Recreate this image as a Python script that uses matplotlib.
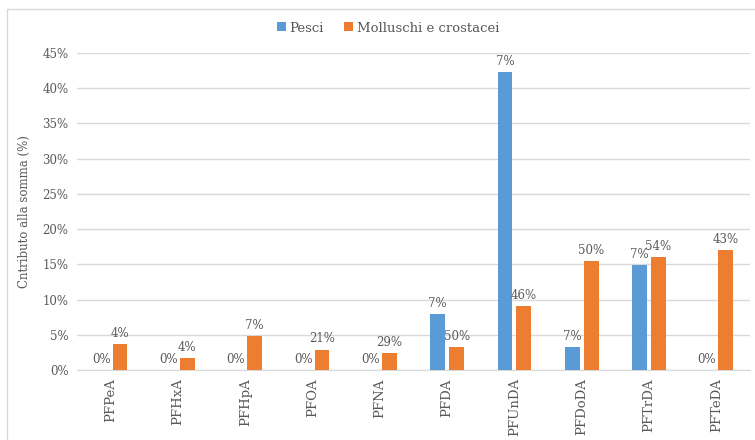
import matplotlib
matplotlib.use("Agg")
import matplotlib.pyplot as plt
import numpy as np
from matplotlib.patches import Rectangle

categories = ["PFPeA", "PFHxA", "PFHpA", "PFOA", "PFNA",
              "PFDA", "PFUnDA", "PFDoDA", "PFTrDA", "PFTeDA"]
pesci = [0.0, 0.0, 0.0, 0.0, 0.0, 7.95, 42.3, 3.2, 14.9, 0.0]
molluschi = [3.7, 1.7, 4.8, 2.9, 2.4, 3.3, 9.05, 15.5, 16.05, 17.05]
# labels shown above the bars (detection frequency)
pesci_labels = ["0%", "0%", "0%", "0%", "0%", "7%", "7%", "7%", "7%", "0%"]
molluschi_labels = ["4%", "4%", "7%", "21%", "29%", "50%", "46%", "50%", "54%", "43%"]
yticks = [0, 5, 10, 15, 20, 25, 30, 35, 40, 45]

BLUE = "#5B9BD5"
ORANGE = "#ED7D31"
GREY = "#595959"

plt.rcParams["font.family"] = ["DejaVu Serif"]

fig = plt.figure(figsize=(7.55, 4.4), dpi=100)
fig.patches.append(Rectangle((7 / 755, -0.1), 1.1, 1 - 9 / 440 + 0.1,
                             transform=fig.transFigure, fill=False,
                             edgecolor="#d9d9d9", linewidth=1))
ax = fig.add_axes([77 / 755, 1 - 370 / 440, 673 / 755, 317 / 440])

x = np.arange(len(categories))
w = 0.22
off = 0.14
b1 = ax.bar(x - off, pesci, w, color=BLUE, label="Pesci", zorder=3)
b2 = ax.bar(x + off, molluschi, w, color=ORANGE, label="Molluschi e crostacei", zorder=3)

for bars, labs in ((b1, pesci_labels), (b2, molluschi_labels)):
    for r, t in zip(bars, labs):
        ax.annotate(t, (r.get_x() + r.get_width() / 2, r.get_height()),
                    xytext=(0, 3), textcoords="offset points",
                    ha="center", va="bottom", fontsize=8.5, color=GREY)

ax.set_xlim(-0.5, len(categories) - 0.5)
ax.set_ylim(0, 45)
ax.set_yticks(yticks)
ax.set_yticklabels([f"{v}%" for v in yticks], fontsize=8.5, color=GREY)
ax.set_xticks(x)
ax.set_xticklabels(categories, rotation=90, fontsize=9.5, color=GREY)
ax.tick_params(length=0, pad=6)
ax.grid(axis="y", color="#d9d9d9", linewidth=1, zorder=0)
for s in ("top", "right", "left"):
    ax.spines[s].set_visible(False)
ax.spines["bottom"].set_color("#d9d9d9")
ax.set_ylabel("Cntributo alla somma (%)", fontsize=8.5, color=GREY, labelpad=8)

fig.legend(loc="center", bbox_to_anchor=(388 / 755, 1 - 28 / 440), ncol=2,
           frameon=False, fontsize=9.5, labelcolor=GREY, handlelength=0.7,
           handleheight=0.7, handletextpad=0.3, columnspacing=1.5)

fig.savefig("out.png", dpi=100, facecolor="white")
